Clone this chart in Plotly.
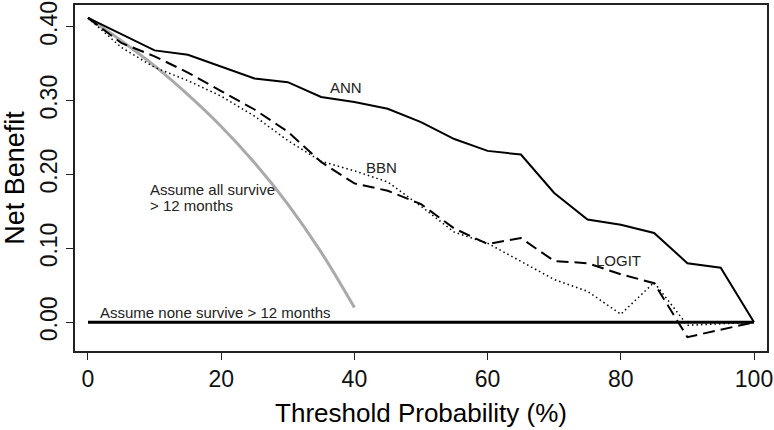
import plotly.graph_objects as go

# Threshold probabilities (%)
thresholds = [0, 5, 10, 15, 20, 25, 30, 35, 40, 45, 50, 55, 60, 65, 70, 75, 80, 85, 90, 95, 100]

ann = [0.412, 0.390, 0.368, 0.362, 0.346, 0.330, 0.325, 0.305, 0.298, 0.289, 0.271,
       0.248, 0.232, 0.227, 0.175, 0.139, 0.132, 0.121, 0.080, 0.074, 0.000]
bbn = [0.412, 0.372, 0.345, 0.327, 0.306, 0.279, 0.246, 0.218, 0.205, 0.190, 0.157,
       0.122, 0.107, 0.083, 0.058, 0.042, 0.011, 0.054, -0.004, -0.002, 0.000]
logit = [0.412, 0.378, 0.360, 0.338, 0.313, 0.288, 0.258, 0.217, 0.188, 0.178, 0.160,
         0.127, 0.106, 0.114, 0.083, 0.080, 0.065, 0.053, -0.020, -0.010, 0.000]

all_x = [0, 5, 10, 15, 20, 25, 30, 35, 40]
all_survive = [0.412, 0.381, 0.347, 0.308, 0.265, 0.216, 0.160, 0.095, 0.020]

none_x = [0, 100]
none_survive = [0.0, 0.0]

x_ticks = [0, 20, 40, 60, 80, 100]
y_ticks = [0.0, 0.1, 0.2, 0.3, 0.4]

FONT = "Arial, Liberation Sans, sans-serif"

fig = go.Figure()
fig.add_trace(go.Scatter(x=all_x, y=all_survive, mode="lines", name="Assume all survive",
                         line=dict(color="#aaaaaa", width=3, shape="spline")))
fig.add_trace(go.Scatter(x=none_x, y=none_survive, mode="lines", name="Assume none survive",
                         line=dict(color="black", width=3)))
fig.add_trace(go.Scatter(x=thresholds, y=bbn, mode="lines", name="BBN",
                         line=dict(color="black", width=1.5, dash="1.5px,3px")))
fig.add_trace(go.Scatter(x=thresholds, y=logit, mode="lines", name="LOGIT",
                         line=dict(color="black", width=2, dash="12px,6px")))
fig.add_trace(go.Scatter(x=thresholds, y=ann, mode="lines", name="ANN",
                         line=dict(color="black", width=2)))

lab = dict(family=FONT, size=15, color="#222222")
annots = [
    dict(x=38.8, y=0.318, text="ANN", xanchor="center", yanchor="middle"),
    dict(x=44.0, y=0.209, text="BBN", xanchor="center", yanchor="middle"),
    dict(x=79.6, y=0.083, text="LOGIT", xanchor="center", yanchor="middle"),
    dict(x=9.0, y=0.180, text="Assume all survive", xanchor="left", yanchor="middle"),
    dict(x=9.0, y=0.158, text="> 12 months", xanchor="left", yanchor="middle"),
    dict(x=1.5, y=0.0127, text="Assume none survive > 12 months", xanchor="left", yanchor="middle"),
]
for a in annots:
    a.update(xref="x", yref="y", showarrow=False, font=lab)

fig.update_layout(
    width=774, height=430,
    margin=dict(l=75, r=5, t=1, b=79),
    paper_bgcolor="white", plot_bgcolor="white",
    showlegend=False,
    annotations=annots,
    font=dict(family=FONT, color="black"),
)
fig.update_xaxes(
    range=[-1.95, 101.95], tickvals=x_ticks, ticktext=[str(v) for v in x_ticks],
    showgrid=False, zeroline=False, showline=True, linecolor="#222222", linewidth=1.5,
    mirror=True, ticks="outside", ticklen=7, tickcolor="#222222",
    ticklabeloverflow="allow",
    tickfont=dict(size=23, family=FONT, color="#111111"),
    title=dict(text="Threshold Probability (%)", font=dict(size=26, family=FONT, color="black"), standoff=12),
)
fig.update_yaxes(
    range=[-0.0388, 0.4294], tickvals=y_ticks, ticktext=["%.2f" % v for v in y_ticks],
    showgrid=False, zeroline=False, showline=True, linecolor="#222222", linewidth=1.5,
    mirror=True, ticks="outside", ticklen=7, tickcolor="#222222", tickangle=-90,
    ticklabeloverflow="allow",
    tickfont=dict(size=23, family=FONT, color="#111111"),
    title=dict(text="Net Benefit", font=dict(size=27, family=FONT, color="black"), standoff=8),
)

fig.write_html("out.html", config={"displayModeBar": False},
               post_script="document.body.style.margin='0';document.body.style.padding='0';")
